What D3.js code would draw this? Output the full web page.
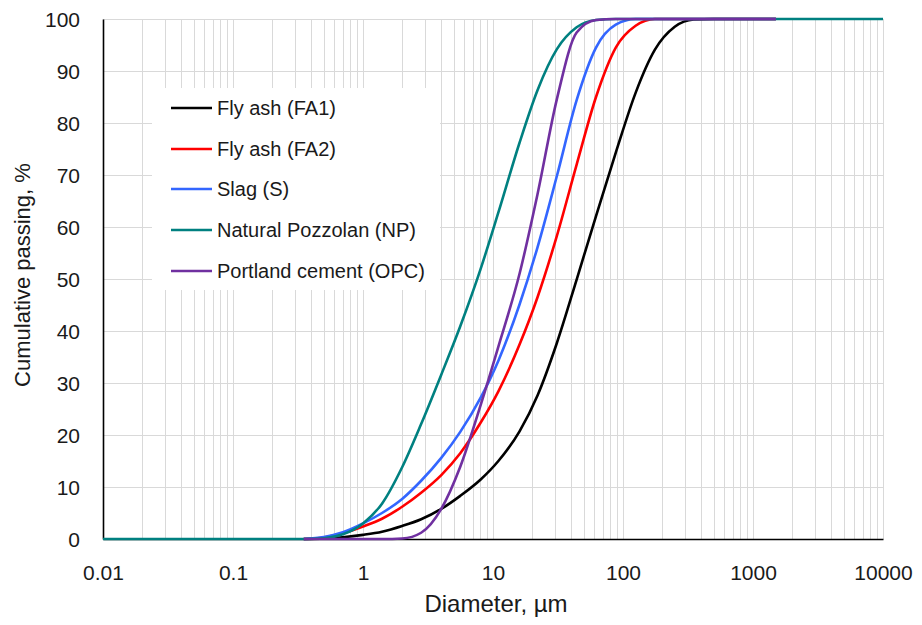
<!DOCTYPE html>
<html>
<head>
<meta charset="utf-8">
<script src="https://cdn.jsdelivr.net/npm/d3@7"></script>
<style>
  html, body { margin: 0; padding: 0; background: #ffffff; }
  svg { display: block; font-family: "Liberation Sans", Arial, sans-serif; }
</style>
</head>
<body>
<svg id="chart" width="922" height="625"></svg>
<script>
// Particle size distributions (cumulative % passing vs. diameter in µm)
const diameters = [0.01, 0.35, 0.5, 0.7, 1, 1.4, 2, 2.8, 4, 5.6, 8, 11, 16, 22, 31, 44, 62, 88, 125, 176, 250, 350, 500, 1500, 10000];

const flyAshFA1  = [null, 0, 0.1, 0.35, 0.8, 1.4, 2.5, 3.8, 5.8, 8.3, 11.4, 15.0, 20.7, 27.6, 37.7, 49.9, 62.1, 74.3, 85.8, 94.1, 98.5, 99.9, 100, 100, null];
const flyAshFA2  = [null, 0, 0.3, 1.1, 2.4, 3.9, 6.2, 8.9, 12.3, 16.5, 22.3, 28.4, 37.4, 46.5, 58.3, 72.0, 85.0, 94.5, 98.7, 100, 100, 100, 100, 100, null];
const slagS      = [null, 0, 0.4, 1.3, 3.0, 5.0, 7.7, 11.2, 15.6, 20.6, 27.1, 34.3, 45.1, 56.1, 69.8, 84.4, 94.5, 98.9, 100, 100, 100, 100, 100, 100, null];
const pozzolanNP = [0, 0, 0.15, 0.9, 3.0, 6.8, 13.8, 22.1, 31.6, 40.9, 51.8, 62.8, 76.2, 86.3, 94.2, 98.4, 99.8, 100, 100, 100, 100, 100, 100, 100, 100];
const cementOPC  = [null, 0, 0, 0, 0, 0, 0.1, 1.2, 5.8, 13.9, 25.6, 37.0, 51.0, 66.3, 84.6, 97.4, 99.8, 100, 100, 100, 100, 100, 100, 100, null];

const seriesNames = ["Fly ash (FA1)", "Fly ash (FA2)", "Slag (S)", "Natural Pozzolan (NP)", "Portland cement (OPC)"];
const seriesValues = [flyAshFA1, flyAshFA2, slagS, pozzolanNP, cementOPC];
const seriesColors = ["#000000", "#ff0000", "#3366ff", "#008080", "#7030a0"];

const xTickValues = [0.01, 0.1, 1, 10, 100, 1000, 10000];
const xTickLabels = ["0.01", "0.1", "1", "10", "100", "1000", "10000"];
const yTickValues = [0, 10, 20, 30, 40, 50, 60, 70, 80, 90, 100];

const xTitle = "Diameter, µm";
const yTitle = "Cumulative passing, %";

// Layout
const plot = { left: 103, right: 883, top: 19, bottom: 539 };
const svg = d3.select("#chart");

const x = d3.scaleLog().domain([0.01, 10000]).range([plot.left, plot.right]);
const y = d3.scaleLinear().domain([0, 100]).range([plot.bottom, plot.top]);

// Gridlines: log minor/major verticals, horizontal every 10 %
const vGrid = [];
for (let e = -2; e < 4; e++) {
  for (let m = 1; m <= 9; m++) vGrid.push(m * Math.pow(10, e));
}
vGrid.push(10000);

const grid = svg.append("g").attr("stroke", "#d9d9d9").attr("stroke-width", 1);
grid.selectAll("line.v").data(vGrid).join("line")
  .attr("class", "v")
  .attr("x1", d => Math.round(x(d)) + 0.5).attr("x2", d => Math.round(x(d)) + 0.5)
  .attr("y1", plot.top).attr("y2", plot.bottom);
grid.selectAll("line.h").data(yTickValues.filter(v => v > 0)).join("line")
  .attr("class", "h")
  .attr("x1", plot.left).attr("x2", plot.right)
  .attr("y1", d => Math.round(y(d)) + 0.5).attr("y2", d => Math.round(y(d)) + 0.5);

// Legend background hides gridlines beneath it
const legend = { x: 152, y: 88, w: 288, h: 202 };
svg.append("rect")
  .attr("x", legend.x).attr("y", legend.y)
  .attr("width", legend.w).attr("height", legend.h)
  .attr("fill", "#ffffff");

// Axes
const xAxis = d3.axisBottom(x).tickValues(xTickValues)
  .tickFormat((d, i) => xTickLabels[i]).tickSize(0).tickPadding(0);
const gx = svg.append("g").attr("transform", `translate(0,${plot.bottom})`).call(xAxis);
gx.select(".domain").attr("stroke", "#000").attr("stroke-width", 1.6);
gx.selectAll(".tick text")
  .attr("y", 41).attr("dy", 0)
  .attr("font-size", 21).attr("font-family", "Liberation Sans, Arial, sans-serif")
  .attr("fill", "#1a1a1a");

const yAxis = d3.axisLeft(y).tickValues(yTickValues).tickFormat(d3.format("d"))
  .tickSize(0).tickPadding(0);
const gy = svg.append("g").attr("transform", `translate(${plot.left},0)`).call(yAxis);
gy.select(".domain").attr("stroke", "#000").attr("stroke-width", 1.6);
gy.selectAll(".tick text")
  .attr("x", -23).attr("dy", "0.36em")
  .attr("font-size", 21).attr("font-family", "Liberation Sans, Arial, sans-serif")
  .attr("fill", "#1a1a1a");

// Axis titles
svg.append("text")
  .attr("x", 496).attr("y", 612)
  .attr("text-anchor", "middle")
  .attr("font-size", 24).attr("fill", "#1a1a1a")
  .text(xTitle);
svg.append("text")
  .attr("transform", "translate(30,275) rotate(-90)")
  .attr("text-anchor", "middle")
  .attr("font-size", 22).attr("fill", "#1a1a1a")
  .text(yTitle);

// Curves
const line = d3.line()
  .defined(d => d.v !== null)
  .x(d => x(d.d))
  .y(d => y(d.v))
  .curve(d3.curveMonotoneX);

const curves = svg.append("g").attr("fill", "none").attr("stroke-width", 2.6)
  .attr("stroke-linejoin", "round").attr("stroke-linecap", "butt");
seriesValues.forEach((vals, i) => {
  const pts = diameters.map((d, j) => ({ d: d, v: vals[j] }));
  curves.append("path")
    .datum(pts)
    .attr("stroke", seriesColors[i])
    .attr("d", line);
});

// Legend entries
const rowY = [108, 149, 189, 230, 271];
const lg = svg.append("g");
seriesNames.forEach((name, i) => {
  lg.append("line")
    .attr("x1", 171).attr("x2", 212)
    .attr("y1", rowY[i]).attr("y2", rowY[i])
    .attr("stroke", seriesColors[i]).attr("stroke-width", 2.6);
  lg.append("text")
    .attr("x", 217).attr("y", rowY[i] + 7)
    .attr("font-size", 20).attr("fill", "#1a1a1a")
    .text(name);
});
</script>
</body>
</html>
